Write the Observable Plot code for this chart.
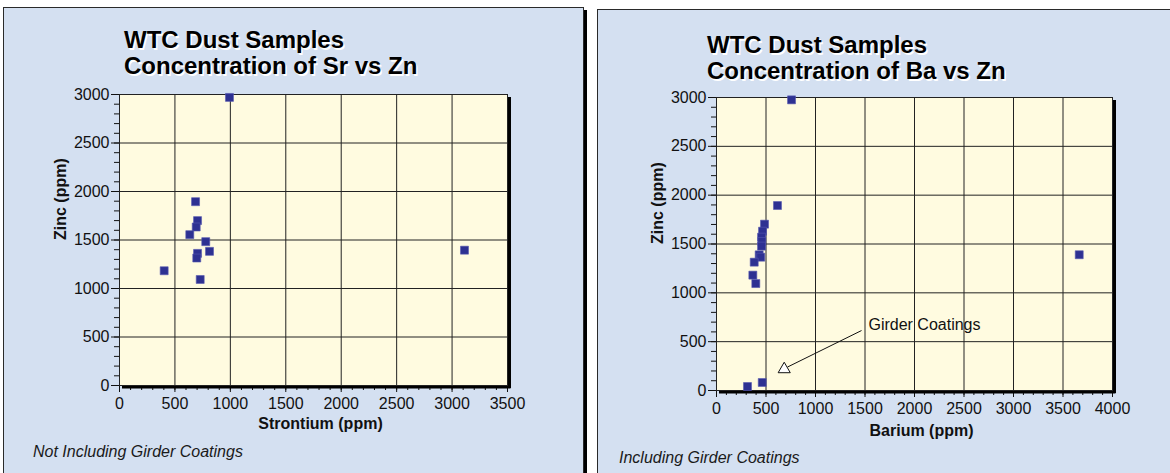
<!DOCTYPE html>
<html>
<head>
<meta charset="utf-8">
<script src="https://cdn.jsdelivr.net/npm/d3@7"></script>
<script src="https://cdn.jsdelivr.net/npm/@observablehq/plot@0.6"></script>
<style>
  body { margin: 0; background: #fff; }
  #page { position: relative; width: 1170px; height: 473px; overflow: hidden; background: #fff;
          font-family: Arial, "Liberation Sans", sans-serif; }
  .panel { position: absolute; background: #d4e0f1; border: 1px solid #2a2a2a; box-shadow: 3px 3px 0 #000; }
  .title { position: absolute; font-weight: bold; font-size: 24px; line-height: 26px; color: #000;
           text-shadow: 1.5px 1.5px 0 #fff; white-space: nowrap; }
  .foot { position: absolute; font-style: italic; font-size: 16px; line-height: 16px; color: #1a1a1a; white-space: nowrap; }
  .chart { position: absolute; top: 80px; }
</style>
</head>
<body>
<div id="page">
  <div class="panel" style="left:3px;top:7px;width:579px;height:480px"></div>
  <div class="panel" style="left:597px;top:9px;width:600px;height:480px"></div>
  <div class="title" style="left:124px;top:27px">WTC Dust Samples<br>Concentration of Sr vs Zn</div>
  <div class="title" style="left:707px;top:32px">WTC Dust Samples<br>Concentration of Ba vs Zn</div>
  <div class="chart" id="left" style="left:0px"></div>
  <div class="chart" id="right" style="left:585px"></div>
  <div class="foot" style="left:33px;top:444px">Not Including Girder Coatings</div>
  <div class="foot" style="left:619px;top:450px">Including Girder Coatings</div>
</div>
<script>
// ---- Data ----
const strontium = [992, 686, 704, 692, 634, 778, 812, 704, 697, 403, 728, 3112];
const zincSr    = [2970, 1895, 1700, 1634, 1555, 1483, 1383, 1362, 1314, 1183, 1093, 1395];

const barium    = [758, 616, 485, 465, 455, 458, 455, 431, 447, 381, 367, 397, 313, 462, 3664];
const zincBa    = [2976, 1894, 1703, 1631, 1570, 1526, 1478, 1389, 1365, 1314, 1181, 1095, 41, 82, 1390];

const girderBarium = [684];
const girderZinc   = [218];
const girderLabel  = ["Girder Coatings"];
// annotation anchor (data units): text start and leader line ends
const girderNoteBa = [1535];
const girderNoteZn = [667];
const girderLineBa = [1465, 717];
const girderLineZn = [614, 240];

const zincTicks      = [0, 500, 1000, 1500, 2000, 2500, 3000];
const strontiumTicks = [0, 500, 1000, 1500, 2000, 2500, 3000, 3500];
const bariumTicks    = [0, 500, 1000, 1500, 2000, 2500, 3000, 3500, 4000];

const xTitleSr = ["Strontium (ppm)"];
const xTitleBa = ["Barium (ppm)"];
const yTitle   = ["Zinc (ppm)"];

const FONT = 'Arial, "Liberation Sans", sans-serif';
const SQUARE = "#2e3192";
const fmt = d3.format("d");

function scatter({xs, ys, xTicks, xTitle, xTitleDy, width, marginLeft, marginRight, marginTop, marginBottom, extra = []}) {
  const xmax = xTicks[xTicks.length - 1];
  const minorX = d3.range(0, xmax + 1, 100);
  const minorY = d3.range(0, 3001, 100);
  const pts = xs.map((x, i) => ({x, y: ys[i]}));
  return Plot.plot({
    width, height: 360, marginLeft, marginRight, marginTop, marginBottom,
    style: {background: "transparent", fontFamily: FONT, fontSize: "16px", color: "#111", overflow: "visible"},
    x: {domain: [0, xmax], label: null},
    y: {domain: [0, 3000], label: null},
    marks: [
      Plot.frame({fill: "#fffbe0", stroke: null}),
      Plot.gridX(xTicks, {stroke: "#222", strokeOpacity: 1}),
      Plot.gridY(zincTicks, {stroke: "#222", strokeOpacity: 1}),
      Plot.axisY(minorY, {tickSize: 5, tickFormat: () => "", label: null}),
      Plot.axisY(zincTicks, {tickSize: 8, tickPadding: 2, tickFormat: fmt, fontSize: 16, label: null}),
      Plot.axisX(minorX, {tickSize: 5, tickFormat: () => "", label: null}),
      Plot.axisX(xTicks, {tickSize: 7, tickPadding: 5, tickFormat: fmt, fontSize: 16, label: null}),
      Plot.ruleX([xmax], {dx: 2, stroke: "#000", strokeWidth: 3, insetTop: 3, insetBottom: -3}),
      Plot.ruleY([0], {dy: 1.5, stroke: "#000", strokeWidth: 3, insetLeft: 3, insetRight: -3.5}),
      Plot.frame({stroke: "#222"}),
      Plot.text(xTitle, {frameAnchor: "bottom", dy: xTitleDy, dx: 7, fontWeight: "bold", fontSize: 16, fill: "#111"}),
      Plot.text(yTitle, {frameAnchor: "left", dx: -59, rotate: -90, fontWeight: "bold", fontSize: 16, fill: "#111"}),
      ...extra,
      Plot.dot(pts, {x: "x", y: "y", symbol: "square", r: 4.5, fill: SQUARE, stroke: "#5557b0", strokeWidth: 0.6})
    ]
  });
}

document.getElementById("left").append(scatter({
  xs: strontium, ys: zincSr, xTicks: strontiumTicks, xTitle: xTitleSr, xTitleDy: 43,
  width: 583, marginLeft: 119, marginRight: 76, marginTop: 14, marginBottom: 55
}));

const girderPts = girderBarium.map((x, i) => ({x, y: girderZinc[i]}));
const notePts = girderLabel.map((t, i) => ({t, x: girderNoteBa[i], y: girderNoteZn[i]}));
document.getElementById("right").append(scatter({
  xs: barium, ys: zincBa, xTicks: bariumTicks, xTitle: xTitleBa, xTitleDy: 45,
  width: 585, marginLeft: 131, marginRight: 58, marginTop: 17, marginBottom: 50,
  extra: [
    Plot.link([0], {x1: () => girderLineBa[0], y1: () => girderLineZn[0], x2: () => girderLineBa[1], y2: () => girderLineZn[1], stroke: "#111", strokeWidth: 1}),
    Plot.dot(girderPts, {x: "x", y: "y", symbol: "triangle", r: 4.5, fill: "#fff", stroke: "#111", strokeWidth: 1}),
    Plot.text(notePts, {x: "x", y: "y", text: "t", textAnchor: "start", fontSize: 16, fill: "#111"})
  ]
}));
</script>
</body>
</html>
